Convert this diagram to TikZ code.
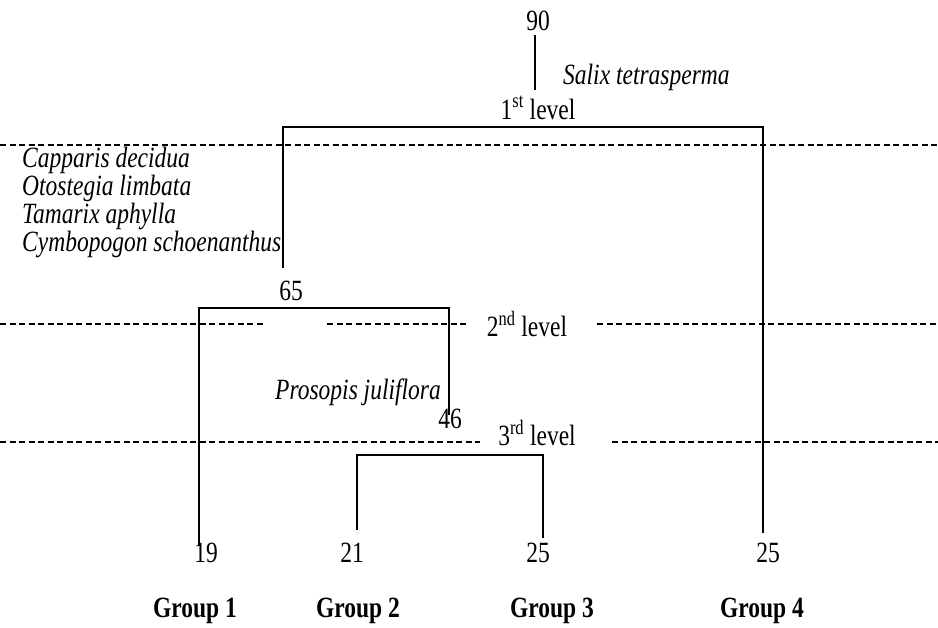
\documentclass[tikz,border=0pt]{standalone}
\usepackage{graphicx}
\usepackage{fontspec}
\setmainfont{Liberation Serif}
\newcommand{\tallbox}[1]{\scalebox{1}[1.25]{#1}}
\begin{document}
\begin{tikzpicture}[x=1pt,y=-1pt,
  lbl/.style={inner sep=0pt, font=\fontsize{23.5}{28}\selectfont},
  sp/.style={inner sep=0pt, anchor=west, font=\fontsize{23.5}{28}\selectfont\itshape},
  grp/.style={inner sep=0pt, font=\fontsize{23.5}{28}\selectfont\bfseries},
  lev/.style={line width=2.2pt, dash pattern=on 6pt off 3.5pt},
  br/.style={line width=1.8pt}]
\useasboundingbox (0,0) rectangle (938,628);
% level lines
\coordinate (l1a) at (0,145);
\coordinate (l1b) at (938,145);
\coordinate (l2a) at (0,324);
\coordinate (l2b) at (263,324);
\coordinate (l2c) at (327,324);
\coordinate (l2d) at (469,324);
\coordinate (l2e) at (597,324);
\coordinate (l2f) at (938,324);
\coordinate (l3a) at (0,442);
\coordinate (l3b) at (480,442);
\coordinate (l3c) at (612,442);
\coordinate (l3d) at (938,442);
\draw[lev](l1a) -- (l1b);
\draw[lev](l2a) -- (l2b);
\draw[lev](l2c) -- (l2d);
\draw[lev](l2e) -- (l2f);
\draw[lev](l3a) -- (l3b);
\draw[lev](l3c) -- (l3d);
\node[lbl] (lev1) at (538,108){\tallbox{1\textsuperscript{st} level}};
\node[lbl] (lev2) at (527,324){\tallbox{2\textsuperscript{nd} level}};
\node[lbl] (lev3) at (537,433){\tallbox{3\textsuperscript{rd} level}};
% top
\node[lbl] (n90) at (538,21){\tallbox{90}};
\coordinate (n90t) at (535,35);
\coordinate (n90b) at (535,90);
\draw[br](n90t) -- (n90b);
\node[sp] (salix) at (563,77){\tallbox{Salix tetrasperma}};
\coordinate (b1l) at (283,127);
\coordinate (b1r) at (763,127);
\coordinate (b1le) at (283,268);
\coordinate (b1re) at (763,533);
\draw[br](b1le) -- (b1l) -- (b1r) -- (b1re);
\node[sp] (cap) at (22,160){\tallbox{Capparis decidua}};
\node[sp] (oto) at (22,188){\tallbox{Otostegia limbata}};
\node[sp] (tam) at (22,216){\tallbox{Tamarix aphylla}};
\node[sp] (cym) at (22,244){\tallbox{Cymbopogon schoenanthus}};
% second
\node[lbl] (n65) at (291,291){\tallbox{65}};
\coordinate (b2l) at (199,308);
\coordinate (b2r) at (449,308);
\coordinate (b2le) at (199,546);
\coordinate (b2re) at (449,415);
\draw[br](b2le) -- (b2l) -- (b2r) -- (b2re);
\node[sp] (pros) at (275,392){\tallbox{Prosopis juliflora}};
\node[lbl] (n46) at (450,419){\tallbox{46}};
% third
\coordinate (b3l) at (357,455);
\coordinate (b3r) at (543,455);
\coordinate (b3le) at (357,530);
\coordinate (b3re) at (543,538);
\draw[br](b3le) -- (b3l) -- (b3r) -- (b3re);
% leaves
\node[lbl] (n19) at (206,553){\tallbox{19}};
\node[lbl] (n21) at (352,553){\tallbox{21}};
\node[lbl] (n25a) at (538,553){\tallbox{25}};
\node[lbl] (n25b) at (768,553){\tallbox{25}};
\node[grp] (g1) at (195,611){\tallbox{Group 1}};
\node[grp] (g2) at (358,611){\tallbox{Group 2}};
\node[grp] (g3) at (552,611){\tallbox{Group 3}};
\node[grp] (g4) at (762,611){\tallbox{Group 4}};
\end{tikzpicture}
\end{document}
